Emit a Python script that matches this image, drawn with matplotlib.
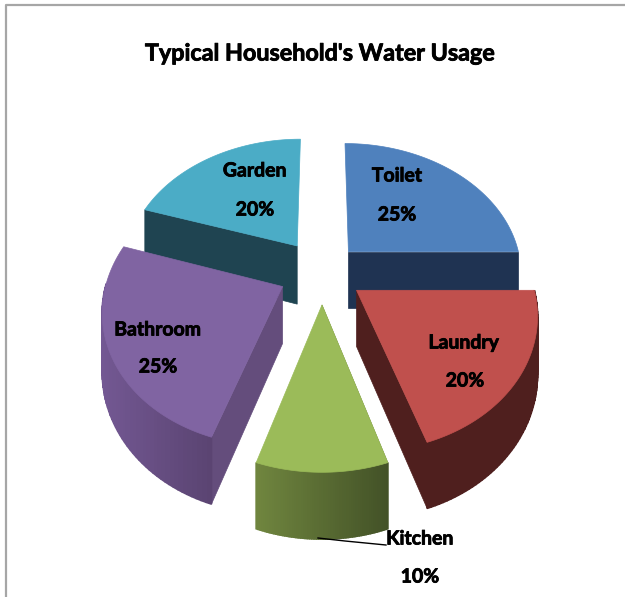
import numpy as np
import matplotlib
matplotlib.use('Agg')
import matplotlib.pyplot as plt
import matplotlib.patheffects as pe
from matplotlib.colors import to_rgb
from matplotlib.patches import Polygon

# Chart data
title = "Typical Household's Water Usage"
categories = ['Toilet', 'Laundry', 'Kitchen', 'Bathroom', 'Garden']
shares = [25, 20, 10, 25, 20]

# Slice styles, same order as categories
explode = [0.22, 0.24, 0.247, 0.25, 0.25]
depths = [58, 55, 54, 56, 60]
top_colors = ['#4f81bd', '#c0504d', '#9bbb59', '#8064a2', '#4bacc6']
wall_colors = ['#1f3352', '#4f1f1e', '#6b7f3f', '#644d7c', '#1f4451']
rim_left = ['#1f3352', '#4f1f1e', '#70863f', '#735893', '#1f4451']
rim_right = ['#1f3352', '#4f1f1e', '#435227', '#5b4472', '#1f4451']
label_xy = [(397, 176), (464, 343), (420, 539), (158, 330), (255, 171)]
percent_xy = [(397, 215), (465, 381), (420, 577), (158, 367), (255, 210)]
draw_order = [0, 4, 1, 3, 2]

# Perspective of the pie plane, in pixels
cx, cy = 322, 271.5
fx, fy = 174, 130.3
persp = 0.153


def project(x, y, drop=0.0):
    w = 1 + persp * y
    return cx + fx * x / w, cy - fy * y / w + drop / w


plt.rcParams['font.family'] = ['Lato', 'DejaVu Sans']
fig = plt.figure(figsize=(6.25, 5.97), dpi=100)
ax = fig.add_axes([0, 0, 1, 1])
ax.set_xlim(0, 625)
ax.set_ylim(597, 0)
ax.axis('off')

# Chart border, only the top and left show
ax.plot([6, 6, 625], [597, 5, 5], color='#a6a6a6', lw=1.6, zorder=1)

edges = np.cumsum([0] + shares) / sum(shares) * 2 * np.pi


def wall(points_x, points_y, color, drop, z, lw=0.5):
    top = np.array(project(points_x, points_y)).T
    bottom = np.array(project(points_x, points_y, drop)).T
    ax.add_patch(Polygon(np.vstack([top, bottom[::-1]]), closed=True, fc=color, ec=color, lw=lw, zorder=z))


for rank, i in enumerate(draw_order):
    start, end = edges[i], edges[i + 1]
    mid = (start + end) / 2
    ox, oy = explode[i] * np.sin(mid), explode[i] * np.cos(mid)
    z = 2 + rank
    arc = np.linspace(start, end, 60)
    arc_x = ox + np.sin(arc)
    arc_y = oy + np.cos(arc)

    # only the cut face nearer the viewer can be seen
    a = min(start, end, key=np.cos)
    wall(np.array([ox, ox + np.sin(a)]), np.array([oy, oy + np.cos(a)]), wall_colors[i], depths[i], z)

    # outer rim in small strips so it can shade from left to right, front half only
    c1, c2 = np.array(to_rgb(rim_left[i])), np.array(to_rgb(rim_right[i]))
    px = np.array(project(arc_x, arc_y))[0]
    span = max(px.max() - px.min(), 1)
    for j in range(len(arc) - 1):
        if np.cos(arc[j]) < 0 or np.cos(arc[j + 1]) < 0:
            t = (px[j] - px.min()) / span
            wall(arc_x[j:j + 2], arc_y[j:j + 2], c1 + (c2 - c1) * t, depths[i], z, lw=1.2)

    # top face
    face = np.array(project(np.r_[ox, arc_x], np.r_[oy, arc_y])).T
    ax.add_patch(Polygon(face, closed=True, fc=top_colors[i], ec=top_colors[i], lw=0.5, zorder=z))

# Kitchen leader line
ax.plot([318, 345, 386], [538, 541, 545], color='black', lw=1, zorder=10)

heavy = [pe.withStroke(linewidth=0.6, foreground='black')]
for i, name in enumerate(categories):
    ax.text(*label_xy[i], name, ha='center', va='center', fontsize=14, fontweight='bold', zorder=11, path_effects=heavy)
    ax.text(*percent_xy[i], f'{shares[i]}%', ha='center', va='center', fontsize=14, fontweight='bold', zorder=11, path_effects=heavy)

ax.text(320, 54, title, ha='center', va='center', fontsize=16.8, fontweight='bold', zorder=11, path_effects=heavy)

fig.savefig('out.png', dpi=100)
